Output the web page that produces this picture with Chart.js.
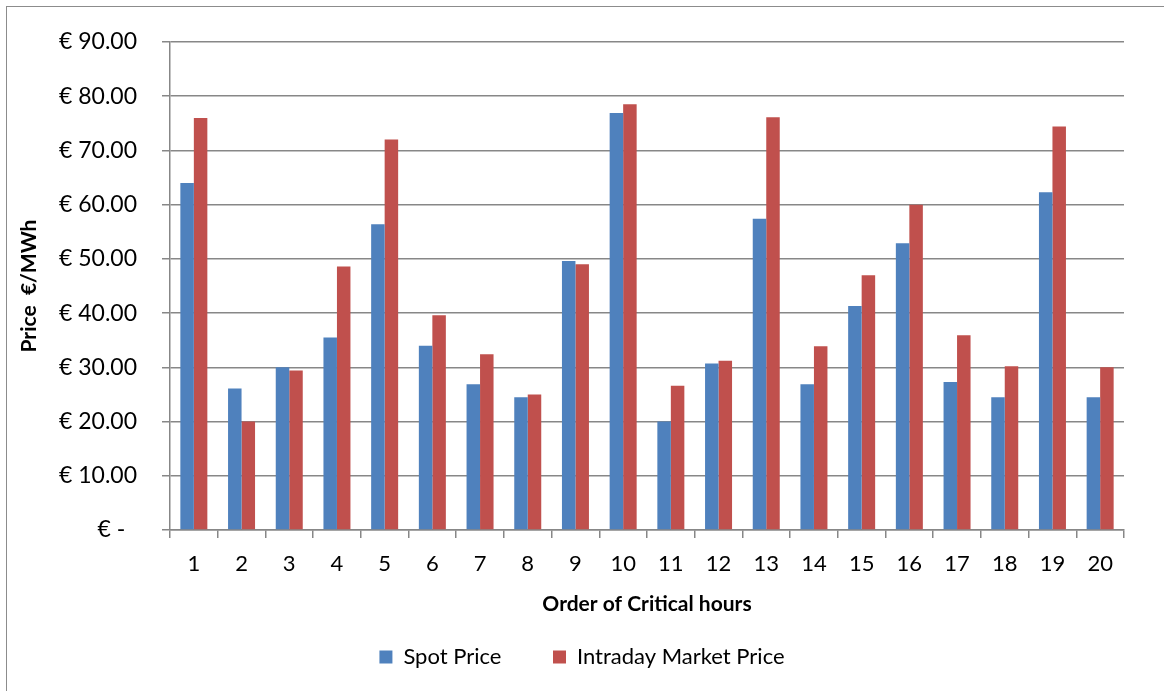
<!DOCTYPE html>
<html>
<head>
<meta charset="utf-8">
<script src="https://cdn.jsdelivr.net/npm/chart.js@4/dist/chart.umd.min.js"></script>
<style>
  html, body { margin: 0; padding: 0; background: #fff; }
  #wrap { position: relative; width: 1164px; height: 691px; overflow: hidden; }
  #frame { position: absolute; left: 6px; top: 6px; width: 1200px; height: 720px;
           border-left: 1.5px solid #8c8c8c; border-top: 1.5px solid #8c8c8c; }
  canvas { position: absolute; left: 0; top: 0; }
</style>
</head>
<body>
<div id="wrap">
  <div id="frame"></div>
  <canvas id="chart" width="1164" height="691"></canvas>
</div>
<script>
const hours = ['1','2','3','4','5','6','7','8','9','10','11','12','13','14','15','16','17','18','19','20'];
const spotPrice = [64.0, 26.1, 30.0, 35.5, 56.4, 34.0, 26.9, 24.5, 49.6, 76.9, 20.0, 30.7, 57.4, 26.9, 41.3, 52.9, 27.3, 24.5, 62.3, 24.5];
const intradayPrice = [76.0, 20.0, 29.4, 48.6, 72.0, 39.6, 32.4, 25.0, 49.0, 78.5, 26.6, 31.2, 76.1, 33.9, 47.0, 60.0, 35.9, 30.2, 74.4, 30.0];

const FONT = 'Lato, "Open Sans", sans-serif';
const GRID = '#878787';

// nudge the legend row a bit to the right, like the original
const legendShift = {
  id: 'legendShift',
  afterLayout(chart) {
    chart.legend.left += 16;
    chart.legend.right += 16;
  }
};

const ctx = document.getElementById('chart').getContext('2d');
const chart = new Chart(ctx, {
  type: 'bar',
  data: {
    labels: hours,
    datasets: [
      { label: 'Spot Price', data: spotPrice, backgroundColor: '#4F81BD' },
      { label: 'Intraday Market Price', data: intradayPrice, backgroundColor: '#C0504D' }
    ]
  },
  plugins: [legendShift],
  options: {
    responsive: false,
    animation: false,
    layout: { padding: { left: 8, right: 40, top: 42, bottom: 13 } },
    datasets: { bar: { categoryPercentage: 0.566, barPercentage: 1.0 } },
    plugins: {
      tooltip: { enabled: false },
      legend: {
        position: 'bottom',
        labels: {
          font: { family: FONT, size: 22 },
          color: '#000',
          boxWidth: 13,
          boxHeight: 13,
          padding: 29,
          generateLabels(chart) {
            const items = Chart.defaults.plugins.legend.labels.generateLabels(chart);
            items.forEach((it, i) => { if (i === 0) it.text = it.text + '    '; it.lineWidth = 0; });
            return items;
          }
        }
      }
    },
    scales: {
      x: {
        grid: { offset: true, drawOnChartArea: false, drawTicks: true, tickLength: 8, color: GRID, lineWidth: 1.5 },
        border: { color: GRID, width: 1.5 },
        ticks: { font: { family: FONT, size: 22 }, color: '#000', padding: 13, maxRotation: 0 },
        title: {
          display: true,
          text: 'Order of Critical hours',
          font: { family: FONT, size: 21, weight: 'bold' },
          color: '#000',
          padding: { top: 0, bottom: 0 }
        },
        afterFit(scale) { scale.height = 87; }
      },
      y: {
        min: 0,
        max: 90,
        grid: { color: GRID, lineWidth: 1.5, tickLength: 8 },
        border: { color: GRID, width: 1.5 },
        ticks: {
          stepSize: 10,
          font: { family: FONT, size: 23 },
          color: '#000',
          padding: 25,
          callback: v => v === 0 ? '€ -  ' : '€ ' + v.toFixed(2)
        },
        title: {
          display: true,
          text: 'Price  €/MWh',
          font: { family: FONT, size: 21, weight: 'bold' },
          color: '#000',
          padding: { top: 9, bottom: 0 }
        },
        afterFit(scale) { scale.width = 162; }
      }
    }
  }
});
</script>
</body>
</html>
